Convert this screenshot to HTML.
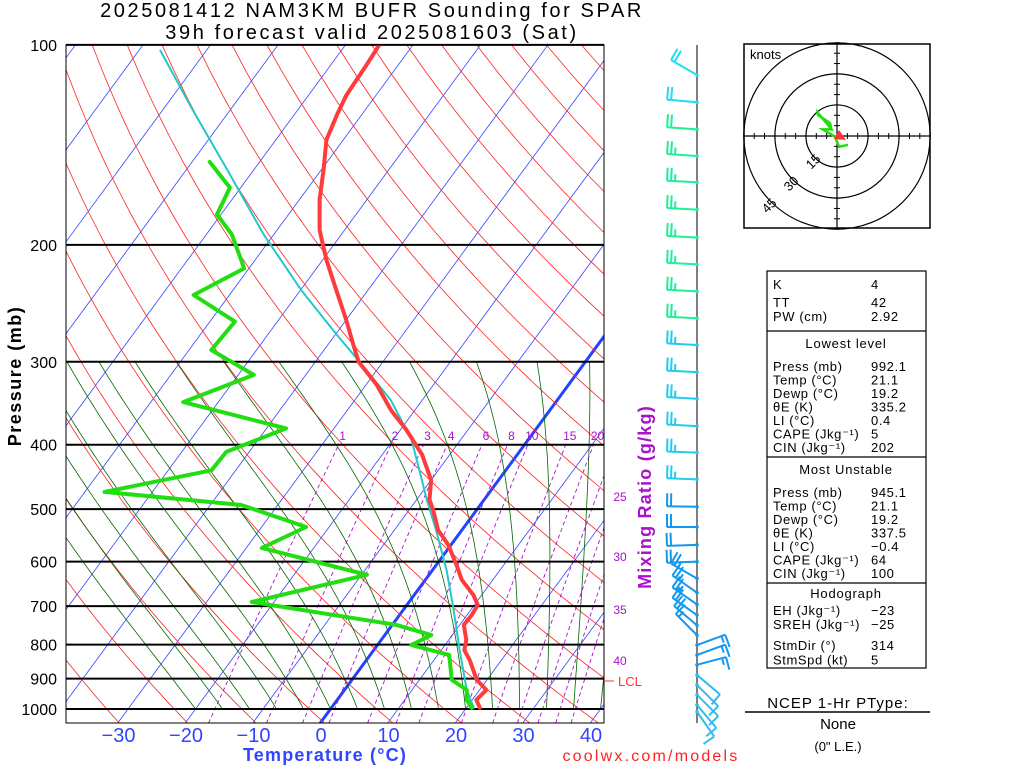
<!DOCTYPE html>
<html><head><meta charset="utf-8">
<style>
html,body{margin:0;padding:0;background:#fff;}
svg{display:block;font-family:"Liberation Sans",sans-serif;}
</style></head>
<body>
<svg id="chart" width="1024" height="768" viewBox="0 0 1024 768" xmlns="http://www.w3.org/2000/svg">
<defs><clipPath id="plotclip"><rect x="66" y="45" width="538" height="678"/></clipPath></defs>
<text x="372" y="17" font-size="20" text-anchor="middle" letter-spacing="2.6">2025081412 NAM3KM BUFR Sounding for SPAR</text>
<text x="372" y="39" font-size="20" text-anchor="middle" letter-spacing="2.6">39h forecast valid 2025081603 (Sat)</text>
<g id="bg" clip-path="url(#plotclip)"></g>
<g id="plines"></g>
<g id="series" clip-path="url(#plotclip)"></g>
<rect x="66" y="45" width="538" height="678" fill="none" stroke="#000" stroke-width="1"/>
<g id="labels"></g>
<text transform="translate(21,376) rotate(-90)" font-size="18" font-weight="bold" letter-spacing="1.5" text-anchor="middle">Pressure (mb)</text>
<text x="325" y="761" font-size="18" font-weight="bold" letter-spacing="1.2" fill="#3344ff" text-anchor="middle">Temperature (°C)</text>
<text transform="translate(651,497) rotate(-90)" font-size="18" font-weight="bold" letter-spacing="1.2" fill="#aa11cc" text-anchor="middle">Mixing Ratio (g/kg)</text>
<text x="651" y="761" font-size="16" fill="#ff2222" text-anchor="middle" letter-spacing="2.2">coolwx.com/models</text>
<line x1="604" y1="681" x2="614" y2="681" stroke="#ff3333" stroke-width="1"/>
<text x="618" y="686" font-size="13" fill="#ff3333">LCL</text>
<g id="barbs"></g>
<g id="hodo"></g>
<g id="stats" font-size="13"></g>
<text x="838" y="708" font-size="15" text-anchor="middle" letter-spacing="1">NCEP 1-Hr PType:</text>
<line x1="745" y1="712" x2="930" y2="712" stroke="#000" stroke-width="1.5"/>
<text x="838" y="729" font-size="15" text-anchor="middle">None</text>
<text x="838" y="751" font-size="13" text-anchor="middle">(0" L.E.)</text>
</svg>
<script>
// ---- data ----
const tempP = [100,107,119,127,139,154,171,190,211,234,260,283,300,325,355,380,414,452,484,502,538,566,607,639,674,697,722,747,787,815,844,904,936,969,996];
const tempT = [-65.0,-64.7,-64.4,-63.7,-62.5,-59.7,-57.0,-53.7,-49.4,-44.7,-39.9,-36.2,-33.6,-28.4,-23.5,-19.1,-14.1,-10.0,-8.1,-6.4,-3.5,-0.4,3.0,5.4,8.8,10.5,10.7,10.6,12.6,13.4,15.3,18.5,21.0,20.6,22.0];
const dewP = [150,164,180,193,217,238,261,288,314,345,378,410,437,471,493,532,572,628,690,747,774,801,829,904,936,969,996];
const dewT = [-77.4,-71.6,-70.6,-66.2,-60.7,-65.3,-56.3,-56.7,-47.7,-55.2,-37.1,-43.4,-43.6,-57.1,-35.4,-23.4,-27.7,-9.2,-23.3,0.6,6.9,5.0,11.7,14.8,18.1,19.2,20.8];
const parcelP = [102,125,154,193,234,273,303,343,393,437,484,538,618,710,815,936,996];
const parcelT = [-96.8,-85.7,-74.0,-61.5,-49.9,-39.8,-32.8,-24.6,-17.3,-12.8,-8.5,-3.8,2.1,7.5,12.7,18.1,21.1];
const pTicks = [100,200,300,400,500,600,700,800,900,1000];
const tTicks = [-30,-20,-10,0,10,20,30,40];
const mixRatios = [1,2,3,4,6,8,10,15,20,25,30,35,40];
const barbP = [111,122,134,147,161,177,195,214,235,258,283,311,341,375,411,451,496,532,566,600,636,668,696,722,748,774,801,829,858,889,920,952,986,1010];
const barbDir = [300,275,274,274,273,273,273,273,273,273,273,273,273,273,272,272,271,270,268,268,300,305,305,305,310,315,70,70,75,130,135,135,140,145];
const barbSpd = [20,20,20,25,25,25,25,25,25,25,25,25,25,25,25,25,20,20,20,20,25,25,25,20,20,15,15,15,15,10,10,10,10,10];
const hodoU = [5.3,1.0,-1.0,-6.9,-2.6,-9.3,-9.2,-3.4,-2.6];
const hodoV = [-4.3,-5.2,-0.3,3.2,3.2,11.3,10.1,6.3,3.2];
const statLabels2 = ["Press (mb)","Temp (°C)","Dewp (°C)","θE (K)","LI (°C)","CAPE (Jkg⁻¹)","CIN (Jkg⁻¹)"];
const statValues2 = ["992.1","21.1","19.2","335.2","0.4","5","202"];
const statValues3 = ["945.1","21.1","19.2","337.5","−0.4","64","100"];
const statLabels4 = ["EH (Jkg⁻¹)","SREH (Jkg⁻¹)"];
const statValues4 = ["−23","−25"];
const statLabels5 = ["StmDir (°)","StmSpd (kt)"];
const statValues5 = ["314","5"];

// ---- axes ----
const NS="http://www.w3.org/2000/svg";
function yP(p){return 709+288.4*Math.log(p/1000);}
function xT(T,p){return 321+6.75*T+0.734*(722-yP(p));}
function mk(tag,attrs,parent){const e=document.createElementNS(NS,tag);for(const k in attrs)e.setAttribute(k,attrs[k]);parent.appendChild(e);return e;}
function poly(pts){return pts.map(q=>q[0].toFixed(1)+","+q[1].toFixed(1)).join(" ");}
const bg=document.getElementById('bg');
for(let T=-160;T<=50;T+=10){
  const l=mk('line',{x1:xT(T,1050),y1:yP(1050),x2:xT(T,100),y2:yP(100),stroke:T===0?'#2244ff':'#3344ff','stroke-width':T===0?3:0.8},bg);
  
  
}
for(let th=200;th<=520;th+=10){
  const pts=[];for(let p=1050;p>=100;p-=10){pts.push([xT(th*Math.pow(p/1000,0.286)-273.15,p),yP(p)]);}
  const l=mk('polyline',{points:poly(pts),fill:'none',stroke:'#ff2222','stroke-width':0.8},bg);
  
  
}
function es(T){return 6.112*Math.exp(17.67*T/(T+243.5));}
for(let T0=-20;T0<=40;T0+=4){
  let T=T0+273.15;const pts=[];
  for(let p=1000;p>=300;p-=5){
    pts.push([xT(T-273.15,p),yP(p)]);
    const rs=0.622*es(T-273.15)/(p-es(T-273.15));
    const Lv=2.5e6,Rd=287,cp=1004;
    const dTdp=(1/p)*(Rd*T+Lv*rs)/(cp+Lv*Lv*rs*0.622/(Rd*T*T));
    T-=dTdp*5;
  }
  const l=mk('polyline',{points:poly(pts),fill:'none',stroke:'#006600','stroke-width':0.8},bg);
  
  
}
const lab=document.getElementById('labels');
const rightLabelY={25:501,30:561,35:614,40:665};
function tdFromW(w,p){const e=w*p/(622+w);const a=Math.log(e/6.112);return 243.5*a/(17.67-a);}
mixRatios.forEach(w=>{
  const pts=[];for(let p=1050;p>=400;p-=10)pts.push([xT(tdFromW(w,p),p),yP(p)]);
  const l=mk('polyline',{points:poly(pts),fill:'none',stroke:'#aa11cc','stroke-width':0.9,'stroke-dasharray':'4,3'},bg);
  
  
  const x400=xT(tdFromW(w,400),400);
  let t;
  if(x400<604){t=mk('text',{x:x400+4,y:440,'font-size':12,fill:'#aa11cc','text-anchor':'middle'},lab);}
  else{t=mk('text',{x:620,y:rightLabelY[w],'font-size':12,fill:'#aa11cc','text-anchor':'middle'},lab);}
  t.textContent=w;
  
  
});
const pl=document.getElementById('plines');
pTicks.forEach(p=>{
  const l=mk('line',{x1:66,y1:yP(p),x2:604,y2:yP(p),stroke:'#000','stroke-width':2},pl);
  
  
  const t=mk('text',{x:57,y:yP(p)+6,'font-size':16,'text-anchor':'end'},lab);
  t.textContent=p;
  
  
});
tTicks.forEach(T=>{
  const t=mk('text',{x:321+6.75*T,y:742,'font-size':20,fill:'#3344ff','text-anchor':'middle'},lab);
  t.textContent=T<0?'−'+(-T):T;
  
  
});
const sg=document.getElementById('series');
function line(P,T,color,w,name){
  const pts=P.map((p,i)=>[xT(T[i],p),yP(p)]);
  const l=mk('polyline',{points:poly(pts),fill:'none',stroke:color,'stroke-width':w,'stroke-linejoin':'round','stroke-linecap':'round'},sg);
  
  
}
line(parcelP,parcelT,'#22c8cc',2,'parcel-trace');
line(tempP,tempT,'#ff3b3b',4,'temperature-line');
line(dewP,dewT,'#22dd11',4,'dewpoint-line');
// wind barbs
const bb=document.getElementById('barbs');
const staffLine=mk('line',{x1:697,y1:45,x2:697,y2:723,stroke:'#555','stroke-width':1.5},bb);


function barbColor(p){if(p<125)return '#22ddee';if(p<270)return '#22ee99';if(p<470)return '#22ccee';if(p<860)return '#1199ee';return '#33bbee';}
barbP.forEach((p,i)=>{
  const y=yP(p),x=697,d=barbDir[i]*Math.PI/180;
  const dx=Math.sin(d),dy=-Math.cos(d),L=30;
  const ex=x+L*dx,ey=y+L*dy,col=barbColor(p);
  const g=mk('g',{stroke:col,'stroke-width':2,fill:'none'},bb);
  
  
  mk('line',{x1:x,y1:y,x2:ex,y2:ey},g);
  mk('circle',{cx:x,cy:y,r:1.8,fill:col,stroke:'none'},g);
  let s=barbSpd[i],k=0;const fx=-dy,fy=dx;
  while(s>=10){const bx=ex-k*4*dx,by=ey-k*4*dy;mk('line',{x1:bx,y1:by,x2:bx+13*fx,y2:by+13*fy},g);s-=10;k++;}
  if(s>=5){if(k===0)k=1;const bx=ex-k*4*dx,by=ey-k*4*dy;mk('line',{x1:bx,y1:by,x2:bx+7*fx,y2:by+7*fy},g);}
});
// hodograph
const hg=document.getElementById('hodo');
const hcx=837,hcy=136,hs=2.07;
const hb=mk('rect',{x:744,y:44,width:186,height:184,fill:'#fff',stroke:'#000','stroke-width':1.5},hg);


[15,30,45].forEach(r=>{
  const c=mk('circle',{cx:hcx,cy:hcy,r:r*hs,fill:'none',stroke:'#000','stroke-width':1.2},hg);
  
  
  const a=Math.PI*0.75,tx=hcx+(r*hs+4)*Math.cos(a)+4,ty=hcy+(r*hs+4)*Math.sin(a)+4;
  const t=mk('text',{x:tx,y:ty,'font-size':13,'text-anchor':'middle',transform:`rotate(-45 ${tx} ${ty})`},hg);
  t.textContent=r;
  
  
});
mk('line',{x1:744,y1:hcy,x2:930,y2:hcy,stroke:'#000','stroke-width':1.2},hg);
mk('line',{x1:hcx,y1:44,x2:hcx,y2:228,stroke:'#000','stroke-width':1.2},hg);
for(let k=-45;k<=45;k+=5){if(k===0)continue;const o=k*hs;
  mk('line',{x1:hcx+o,y1:hcy-3,x2:hcx+o,y2:hcy+3,stroke:'#000'},hg);
  mk('line',{x1:hcx-3,y1:hcy+o,x2:hcx+3,y2:hcy+o,stroke:'#000'},hg);}
const kt=mk('text',{x:750,y:59,'font-size':13},hg);kt.textContent='knots';


const hl=mk('polyline',{points:poly(hodoU.map((u,i)=>[hcx+u*hs,hcy-hodoV[i]*hs])),fill:'none',stroke:'#22dd11','stroke-width':2.5},hg);


const sm=mk('polygon',{points:`${hcx+2},${hcy-6} ${hcx+9},${hcy+4} ${hcx-3},${hcy+3}`,fill:'#ff3333'},hg);


// stats table
const st=document.getElementById('stats');
const box=mk('rect',{x:767,y:271,width:159,height:397,fill:'#fff',stroke:'#000','stroke-width':1.2},st);


[331,457,583].forEach(y=>mk('line',{x1:767,y1:y,x2:926,y2:y,stroke:'#000','stroke-width':1.2},st));
function rows(labels,values,y0,dy){labels.forEach((l,i)=>{
  const a=mk('text',{x:773,y:y0+i*dy,'letter-spacing':0.6},st);a.textContent=l;
  
  
  const b=mk('text',{x:871,y:y0+i*dy,'letter-spacing':0.6},st);b.textContent=values[i];
  
  
});}
function head(t,y){const h=mk('text',{x:846,y:y,'text-anchor':'middle','letter-spacing':0.8},st);h.textContent=t;
  
  }
rows(["K"],["4"],289,14);
rows(["TT","PW (cm)"],["42","2.92"],307,14);
head("Lowest level",348);
rows(statLabels2,statValues2,371,13.5);
head("Most Unstable",474);
rows(statLabels2,statValues3,497,13.5);
head("Hodograph",598);
rows(statLabels4,statValues4,615,14);
rows(statLabels5,statValues5,650,14.5);
</script>
</body></html>
